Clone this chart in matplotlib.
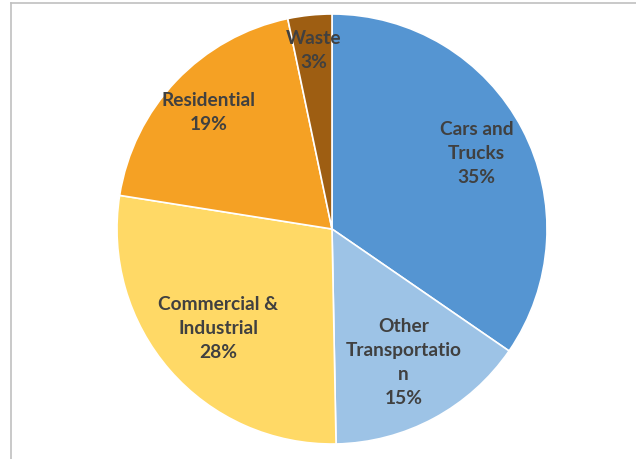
import numpy as np
import matplotlib
matplotlib.use("Agg")
import matplotlib.pyplot as plt
from matplotlib.lines import Line2D

# data (shares; labels show them rounded)
categories = ["Cars and\nTrucks", "Other\nTransportatio\nn", "Commercial &\nIndustrial", "Residential", "Waste"]
shares = [34.6, 15.1, 27.8, 19.2, 3.3]
colors = ["#5595D2", "#9DC3E6", "#FFD966", "#F5A124", "#9E5E12"]
# how far out each label sits (fraction of radius)
label_dist = [0.76, 0.70, 0.70, 0.79, 0.84]

plt.rcParams['font.family'] = ['Lato', 'DejaVu Sans']

fig = plt.figure(figsize=(6.36, 4.60), dpi=100)
fig.patch.set_facecolor("white")

# pie is centred at (332, 230) px with radius 215 px
W, H = 636, 460
cx, cy, r = 332, 230, 215
ax = fig.add_axes([(cx - r) / W, (H - cy - r) / H, 2 * r / W, 2 * r / H])

wedges, _ = ax.pie(shares, colors=colors, startangle=90, counterclock=False,
                   radius=1, wedgeprops=dict(edgecolor="white", linewidth=1.2))
ax.set_xlim(-1, 1)
ax.set_ylim(-1, 1)
ax.set_aspect("equal")
ax.axis("off")

for w, name, pct, d in zip(wedges, categories, shares, label_dist):
    ang = np.deg2rad((w.theta1 + w.theta2) / 2)
    ax.text(d * np.cos(ang), d * np.sin(ang), f"{name}\n{round(pct)}%",
            ha="center", va="center", fontsize=13.8, fontweight="bold",
            color="#404040", linespacing=1.5)

# thin frame on top and left like the source screenshot
fig.add_artist(Line2D([11 / W, 1], [1 - 4 / H, 1 - 4 / H], color="#C0C0C0", lw=1.2))
fig.add_artist(Line2D([11 / W, 11 / W], [0, 1 - 4 / H], color="#C0C0C0", lw=1.2))

fig.savefig("out.png", dpi=100)
